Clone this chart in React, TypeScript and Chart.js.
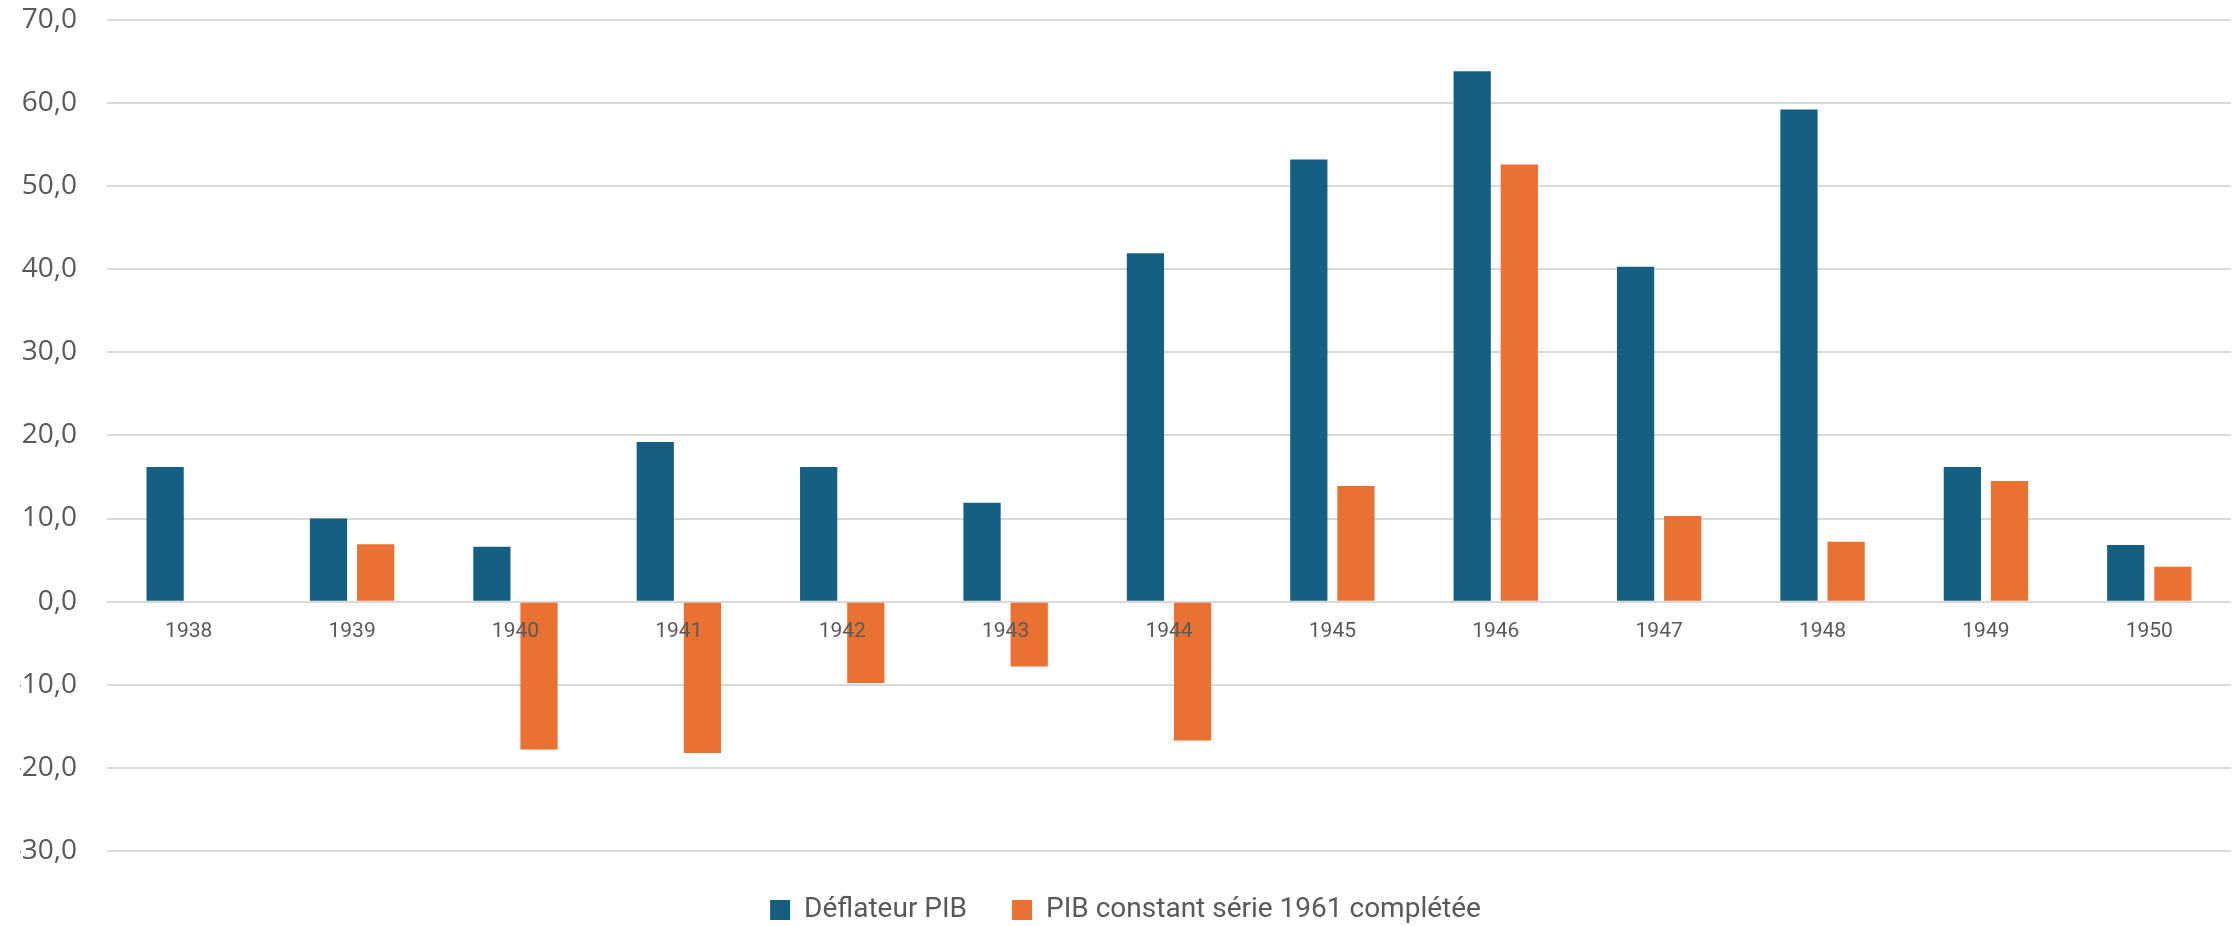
import React, { useEffect, useRef } from "react";
import { Chart, registerables } from "chart.js";

Chart.register(...registerables);

// Annual rates (%), 1938–1950
const years = ["1938", "1939", "1940", "1941", "1942", "1943", "1944", "1945", "1946", "1947", "1948", "1949", "1950"];
const deflateurPIB = [16.2, 10.0, 6.6, 19.2, 16.2, 11.9, 41.9, 53.2, 63.8, 40.3, 59.2, 16.2, 6.8];
const pibConstant = [null, 6.9, -17.8, -18.2, -9.8, -7.8, -16.7, 13.9, 52.6, 10.3, 7.2, 14.5, 4.2];
const seriesNames = ["Déflateur PIB", "PIB constant série 1961 complétée"];

const BLUE = "#156082";
const ORANGE = "#E97132";
const TEXT = "#595959";
const GRID = "#D9D9D9";

export default function App() {
  const canvasRef = useRef<HTMLCanvasElement | null>(null);

  useEffect(() => {
    if (!canvasRef.current) return;
    const chart = new Chart(canvasRef.current, {
      type: "bar",
      data: {
        labels: years,
        datasets: [
          {
            label: seriesNames[0],
            data: deflateurPIB,
            backgroundColor: BLUE,
            categoryPercentage: 0.577,
            barPercentage: 0.79,
          },
          {
            label: seriesNames[1],
            data: pibConstant,
            backgroundColor: ORANGE,
            categoryPercentage: 0.577,
            barPercentage: 0.79,
          },
        ],
      },
      options: {
        animation: false,
        responsive: true,
        maintainAspectRatio: false,
        layout: { padding: { left: 20, right: 8, top: 0, bottom: -8 } },
        plugins: {
          tooltip: { enabled: false },
          legend: {
            position: "bottom",
            labels: {
              color: TEXT,
              font: { family: "Roboto", size: 28 },
              boxWidth: 20,
              boxHeight: 20,
              padding: 45,
            },
          },
        },
        scales: {
          x: {
            position: { y: 0 },
            // the category axis sits on the zero line inside the plot, so it takes no layout room
            afterFit: (scale: any) => {
              scale.height = 0;
            },
            grid: { display: false },
            border: { display: false },
            ticks: {
              z: 1,
              color: TEXT,
              font: { family: "Roboto", size: 21 },
              padding: 10,
              maxRotation: 0,
            },
          },
          y: {
            min: -30,
            max: 70,
            afterFit: (scale: any) => {
              scale.width = 87;
            },
            grid: { color: GRID, lineWidth: 2, drawTicks: false, tickLength: 0 },
            border: { display: false },
            ticks: {
              stepSize: 10,
              color: TEXT,
              padding: 30,
              font: { family: "Open Sans", size: 28 },
              callback: (v: any) => Number(v).toFixed(1).replace(".", ","),
            },
          },
        },
      },
    });
    return () => chart.destroy();
  }, []);

  return (
    <div style={{ position: "absolute", left: 0, top: -27, width: 2239, height: 953, background: "#fff" }}>
      <canvas ref={canvasRef} />
    </div>
  );
}
